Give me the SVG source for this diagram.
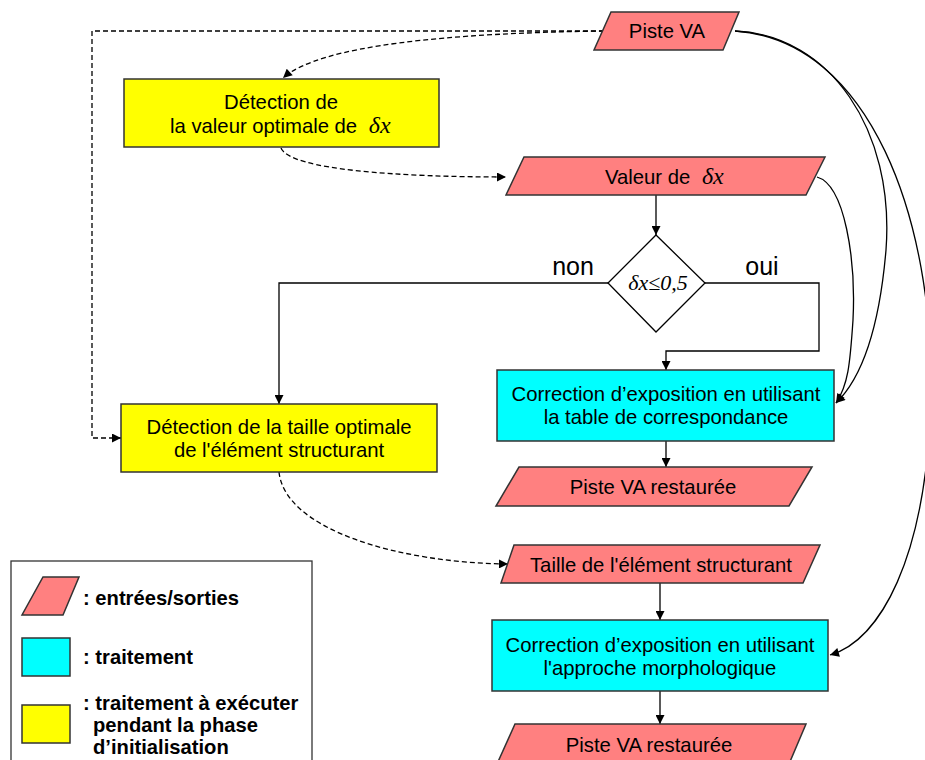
<svg xmlns="http://www.w3.org/2000/svg" width="925" height="760" viewBox="0 0 925 760">
<defs>
<marker id="ah" viewBox="0 0 10 10" refX="10" refY="5" markerWidth="11" markerHeight="9" markerUnits="userSpaceOnUse" orient="auto"><path d="M0,0 L10,5 L0,10 z" fill="#000"/></marker>
</defs>
<style>
.io{fill:#FF8080;stroke:#333;stroke-width:1.5}
.pr{fill:#00FFFF;stroke:#333;stroke-width:1.5}
.init{fill:#FFFF00;stroke:#333;stroke-width:1.5}
.dec{fill:#fff;stroke:#000;stroke-width:1.3}
.t{font-family:"Liberation Sans",Arial,sans-serif;font-size:20.3px;fill:#000;text-anchor:middle}
.m{font-family:"Liberation Serif","Times New Roman",serif;font-style:italic;font-size:24px}
.big{font-size:25px}
.lg{font-family:"Liberation Sans",Arial,sans-serif;font-size:20.2px;font-weight:bold;fill:#000}
.c{fill:none;stroke:#000;stroke-width:1.3}
.d{fill:none;stroke:#000;stroke-width:1.3;stroke-dasharray:5,3}
</style>
<g id="connectors">
<path class="d" d="M604,31 H92 V438 H121" marker-end="url(#ah)"/>
<path class="d" d="M604,31 C450,33 320,45 283,78" marker-end="url(#ah)"/>
<path class="d" d="M281,148 C290,170 400,177 506,177" marker-end="url(#ah)"/>
<path class="d" d="M279,472 C285,530 400,563 508,564" marker-end="url(#ah)"/>
<path class="c" d="M656,195 V235" marker-end="url(#ah)"/>
<path class="c" d="M608,283 H279 V404" marker-end="url(#ah)"/>
<path class="c" d="M705,283 H819 V351 H666 V370" marker-end="url(#ah)"/>
<path class="c" d="M666,441 V467" marker-end="url(#ah)"/>
<path class="c" d="M660,583 V620" marker-end="url(#ah)"/>
<path class="c" d="M660,691 V724" marker-end="url(#ah)"/>
<path class="c" d="M735,31 C830,35 895,130 886,250 C880,320 865,375 836,403" marker-end="url(#ah)"/>
<path class="c" d="M817,177 C845,185 856,260 853,320 C850,365 848,385 836,403" marker-end="url(#ah)"/>
<path class="c" d="M735,31 C870,40 935,220 931,400 C926,560 880,640 830,655" marker-end="url(#ah)"/>
</g>
<g id="piste-va">
<polygon class="io" points="611,12 739,12 723,50 594,50"/>
<text class="t" x="667" y="38">Piste VA</text>
</g>
<g id="detection-dx">
<rect class="init" x="124" y="79" width="315" height="68"/>
<text class="t" x="281" y="109">Détection de</text>
<text class="t" x="170" y="133" style="text-anchor:start">la valeur optimale de <tspan class="m" dx="6">δx</tspan></text>
</g>
<g id="valeur-dx">
<polygon class="io" points="524,157 825,157 806,195 506,195"/>
<text class="t" x="605" y="184" style="text-anchor:start">Valeur de <tspan class="m" dx="6">δx</tspan></text>
</g>
<g id="decision">
<polygon class="dec" points="656,235 705,283 656,332 608,283"/>
<text class="t m" x="658" y="290" style="font-size:22px">δx≤0,5</text>
<text class="t big" x="573" y="275">non</text>
<text class="t big" x="762" y="275">oui</text>
</g>
<g id="correction-table">
<rect class="pr" x="497" y="370" width="337" height="71"/>
<text class="t" x="666" y="401">Correction d’exposition en utilisant</text>
<text class="t" x="666" y="424">la table de correspondance</text>
</g>
<g id="piste-restauree-1">
<polygon class="io" points="519,467 812,467 789,506 496,506"/>
<text class="t" x="653" y="494">Piste VA restaurée</text>
</g>
<g id="detection-taille">
<rect class="init" x="121" y="404" width="316" height="68"/>
<text class="t" x="279" y="434">Détection de la taille optimale</text>
<text class="t" x="279" y="457">de l'élément structurant</text>
</g>
<g id="taille">
<polygon class="io" points="514,545 820,545 803,583 501,583"/>
<text class="t" x="661" y="572">Taille de l'élément structurant</text>
</g>
<g id="correction-morpho">
<rect class="pr" x="492" y="620" width="336" height="71"/>
<text class="t" x="660" y="652">Correction d’exposition en utilisant</text>
<text class="t" x="660" y="675">l'approche morphologique</text>
</g>
<g id="piste-restauree-2">
<polygon class="io" points="515,724 806,724 789,764 497,764"/>
<text class="t" x="649" y="752">Piste VA restaurée</text>
</g>
<g id="legend">
<rect x="11" y="561" width="301" height="205" fill="#fff" stroke="#333" stroke-width="1.3"/>
<polygon class="io" points="43,577 79,577 63,615 22,615"/>
<text class="lg" x="83" y="605">: entrées/sorties</text>
<rect class="pr" x="22" y="638" width="48" height="38"/>
<text class="lg" x="83" y="664">: traitement</text>
<rect class="init" x="22" y="705" width="48" height="38"/>
<text class="lg" x="83" y="710">: traitement à exécuter</text>
<text class="lg" x="93" y="732">pendant la phase</text>
<text class="lg" x="93" y="754">d’initialisation</text>
</g>
</svg>
